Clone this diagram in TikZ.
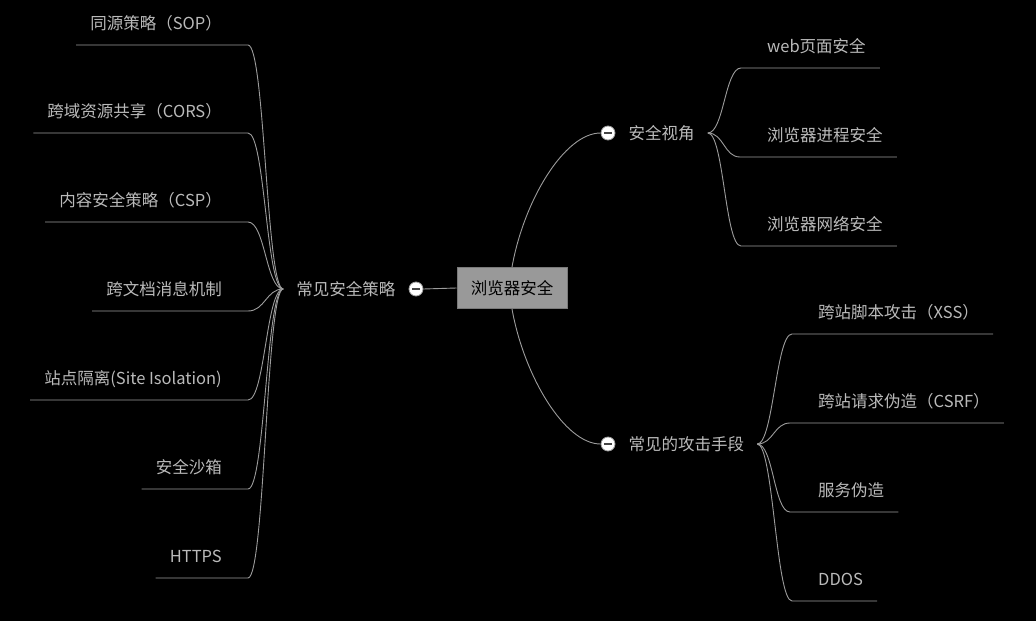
\documentclass[tikz,border=0pt]{standalone}
\usepackage{fontspec}
\newfontfamily\cjkfont{Noto Sans CJK SC}
\usepackage{tikz}
\usetikzlibrary{positioning,calc}
\definecolor{lineGray}{HTML}{9C9C9C}
\definecolor{labelGray}{HTML}{BABABA}
\definecolor{rootFill}{HTML}{999999}
\definecolor{rootEdge}{HTML}{7A7A7A}
\definecolor{minusGray}{HTML}{444444}
\newcommand{\mapfont}{\cjkfont\fontsize{16.5}{20}\selectfont}

\begin{document}
\begin{tikzpicture}[x=1pt, y=-1pt,
        rootBox/.style={draw=rootEdge, fill=rootFill, line width=1pt, font=\mapfont, text=black, minimum width=110pt, minimum height=41pt, inner sep=0pt},
        foldDot/.style={circle, draw=lineGray, fill=white, line width=0.8pt, minimum size=14pt, inner sep=0pt},
        branchLabel/.style={font=\mapfont, text=labelGray, inner xsep=13pt, inner ysep=0pt},
        leafLabel/.style={font=\mapfont, text=labelGray, inner xsep=14pt, inner ysep=0pt},
        linkLine/.style={draw=lineGray, line width=0.9pt}
    ]
        % Background
        \fill[black] (0,0) rectangle (1036,621);

        % Root
        \node[rootBox] (browser) at (512,288) {浏览器安全};

        % Branch dots and labels
        \node[foldDot] (policyDot) at (416,289) {\textcolor{minusGray}{\rule[0.4pt]{8pt}{1.6pt}}};
        \node[branchLabel, left=0pt of policyDot] (policy) {常见安全策略};
        \node[foldDot] (viewDot) at (608,133) {\textcolor{minusGray}{\rule[0.4pt]{8pt}{1.6pt}}};
        \node[branchLabel, right=0pt of viewDot] (view) {安全视角};
        \node[foldDot] (attackDot) at (608,444) {\textcolor{minusGray}{\rule[0.4pt]{8pt}{1.6pt}}};
        \node[branchLabel, right=0pt of attackDot] (attack) {常见的攻击手段};

        \draw[linkLine] (browser.west) -- (policyDot.east);
        \draw[linkLine] (browser.north) .. controls +(12,-67) and +(-36,0) .. (viewDot.west);
        \draw[linkLine] (browser.south) .. controls +(12,67) and +(-36,0) .. (attackDot.west);

        % Left leaves: security policies
        \coordinate (sopEnd) at (248,45);
        \coordinate (corsEnd) at (248,133);
        \coordinate (cspEnd) at (248,222);
        \coordinate (msgEnd) at (248,311);
        \coordinate (isolationEnd) at (248,400);
        \coordinate (sandboxEnd) at (248,489);
        \coordinate (httpsEnd) at (248,578);
        \node[leafLabel, anchor=base east] (sop) at (236,29) {同源策略（SOP）};
        \node[leafLabel, anchor=base east] (cors) at (236,117) {跨域资源共享（CORS）};
        \node[leafLabel, anchor=base east] (csp) at (236,206) {内容安全策略（CSP）};
        \node[leafLabel, anchor=base east] (msg) at (236,295) {跨文档消息机制};
        \node[leafLabel, anchor=base east] (isolation) at (236,384) {站点隔离(Site Isolation)};
        \node[leafLabel, anchor=base east] (sandbox) at (236,473) {安全沙箱};
        \node[leafLabel, anchor=base east] (https) at (236,562) {HTTPS};
        \draw[linkLine] (policy.west) .. controls +(-17,0) and +(17,0) .. (sopEnd) -- (sopEnd -| sop.west);
        \draw[linkLine] (policy.west) .. controls +(-17,0) and +(17,0) .. (corsEnd) -- (corsEnd -| cors.west);
        \draw[linkLine] (policy.west) .. controls +(-17,0) and +(17,0) .. (cspEnd) -- (cspEnd -| csp.west);
        \draw[linkLine] (policy.west) .. controls +(-17,0) and +(17,0) .. (msgEnd) -- (msgEnd -| msg.west);
        \draw[linkLine] (policy.west) .. controls +(-17,0) and +(17,0) .. (isolationEnd) -- (isolationEnd -| isolation.west);
        \draw[linkLine] (policy.west) .. controls +(-17,0) and +(17,0) .. (sandboxEnd) -- (sandboxEnd -| sandbox.west);
        \draw[linkLine] (policy.west) .. controls +(-17,0) and +(17,0) .. (httpsEnd) -- (httpsEnd -| https.west);

        % Right top leaves: security views
        \coordinate (webPageEnd) at (741,68);
        \coordinate (processEnd) at (740,157);
        \coordinate (networkEnd) at (741,246);
        \node[leafLabel, anchor=base west] (webPage) at (753,52) {web页面安全};
        \node[leafLabel, anchor=base west] (process) at (753,141) {浏览器进程安全};
        \node[leafLabel, anchor=base west] (network) at (753,230) {浏览器网络安全};
        \draw[linkLine] (view.east) .. controls +(16,0) and +(-16,0) .. (webPageEnd) -- (webPageEnd -| webPage.east);
        \draw[linkLine] (view.east) .. controls +(16,0) and +(-16,0) .. (processEnd) -- (processEnd -| process.east);
        \draw[linkLine] (view.east) .. controls +(16,0) and +(-16,0) .. (networkEnd) -- (networkEnd -| network.east);

        % Right bottom leaves: attacks
        \coordinate (xssEnd) at (792,334);
        \coordinate (csrfEnd) at (790,423);
        \coordinate (fakeEnd) at (790,512);
        \coordinate (ddosEnd) at (792,601);
        \node[leafLabel, anchor=base west] (xss) at (804,318) {跨站脚本攻击（XSS）};
        \node[leafLabel, anchor=base west] (csrf) at (804,407) {跨站请求伪造（CSRF）};
        \node[leafLabel, anchor=base west] (fake) at (804,496) {服务伪造};
        \node[leafLabel, anchor=base west] (ddos) at (804,585) {DDOS};
        \draw[linkLine] (attack.east) .. controls +(16,0) and +(-16,0) .. (xssEnd) -- (xssEnd -| xss.east);
        \draw[linkLine] (attack.east) .. controls +(16,0) and +(-16,0) .. (csrfEnd) -- (csrfEnd -| csrf.east);
        \draw[linkLine] (attack.east) .. controls +(16,0) and +(-16,0) .. (fakeEnd) -- (fakeEnd -| fake.east);
        \draw[linkLine] (attack.east) .. controls +(16,0) and +(-16,0) .. (ddosEnd) -- (ddosEnd -| ddos.east);
    \end{tikzpicture}
\end{document}
